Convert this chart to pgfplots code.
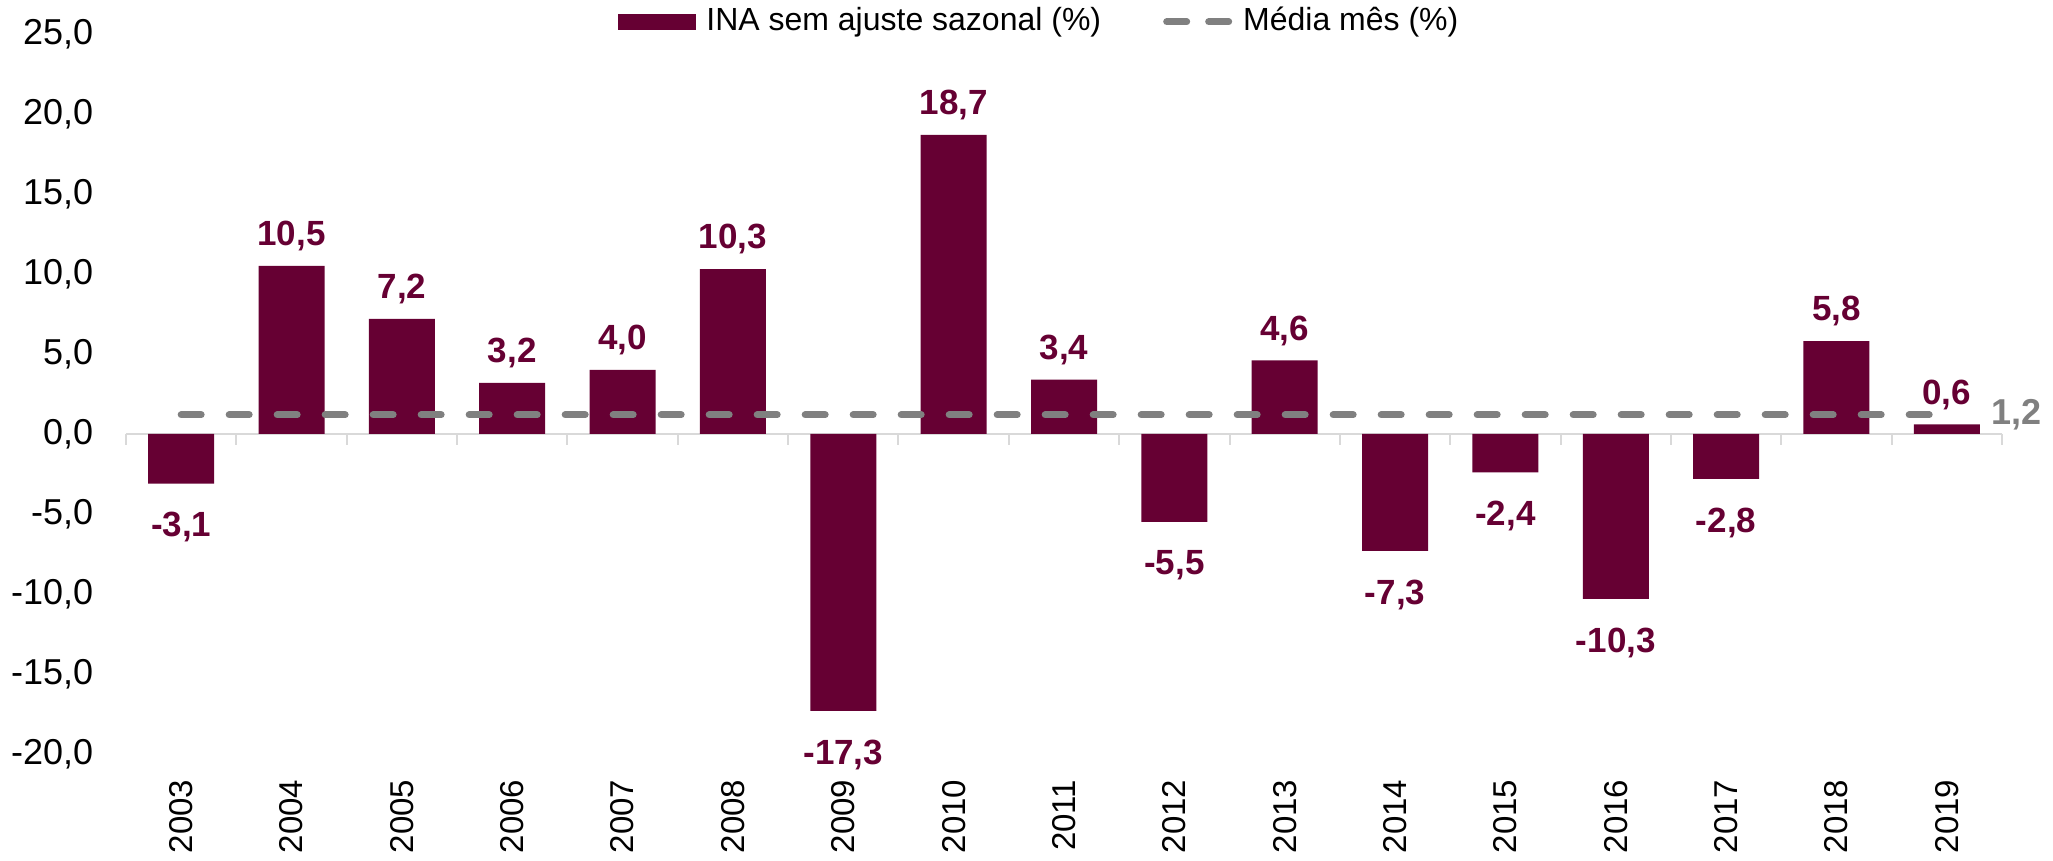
\documentclass[border=0pt]{standalone}
\usepackage{pgfplots}
\pgfplotsset{compat=1.18}
\usepackage{fontspec}
\setmainfont{Liberation Sans}
\definecolor{ina}{HTML}{660033}
\definecolor{media}{HTML}{808080}
\definecolor{eixo}{HTML}{D9D9D9}

\begin{document}
\begin{tikzpicture}
\begin{axis}[
  scale only axis, width=469pt, height=180pt,
  xmin=-0.5, xmax=16.5, ymin=-20, ymax=25,
  ytick={-20,-15,...,25},
  xtick={0,...,16},
  xticklabels={2003,2004,2005,2006,2007,2008,2009,2010,2011,2012,2013,2014,2015,2016,2017,2018,2019},
  axis line style={draw=none}, major tick length=0pt,
  xticklabel style={font=\fontsize{8.25}{9}\selectfont, rotate=90, anchor=east, inner sep=0pt},
  xticklabel shift=6.25pt,
  yticklabel style={font=\fontsize{9}{10}\selectfont, inner sep=0pt, xshift=-8pt,
    /pgf/number format/.cd, fixed, fixed zerofill, precision=1, use comma, assume math mode=true},
  legend style={at={(0.489,1.017)}, anchor=center, draw=none, fill=none,
    legend columns=2, font=\fontsize{8}{9}\selectfont,
    /tikz/every even column/.append style={column sep=13pt},
    nodes={inner sep=2.5pt}},
  clip=false,
]
% linha do zero com marcas entre categorias
\draw[eixo, line width=0.5pt] (axis cs:-0.5,0) -- (axis cs:16.5,0);
\pgfplotsinvokeforeach{-0.5,0.5,1.5,2.5,3.5,4.5,5.5,6.5,7.5,8.5,9.5,10.5,11.5,12.5,13.5,14.5,15.5,16.5}{
  \draw[eixo, line width=0.5pt] (axis cs:#1,0) -- (axis cs:#1,-0.69);
}
\addplot[ybar, bar width=16.5pt, fill=ina, draw=none,
  point meta=y,
  visualization depends on={y \as \rawy},
  nodes near coords={\pgfmathprintnumber[fixed, fixed zerofill, precision=1, use comma, assume math mode=true]{\pgfplotspointmeta}},
  nodes near coords align={vertical},
  every node near coord/.append style={font=\fontsize{8.75}{10}\selectfont\bfseries, text=ina, inner sep=3.5pt,
    yshift={(\rawy<0)*(-3.5pt)}},
  legend image code/.code={\fill[ina] (0pt,-2pt) rectangle (19.5pt,2pt);}]
  coordinates {
  (0,-3.1) (1,10.5) (2,7.2) (3,3.2) (4,4.0) (5,10.3) (6,-17.3) (7,18.7) (8,3.4)
  (9,-5.5) (10,4.6) (11,-7.3) (12,-2.4) (13,-10.3) (14,-2.8) (15,5.8) (16,0.6)
  };
\addlegendentry{INA sem ajuste sazonal (\%)}
\addplot[media, line width=1.75pt, line cap=round, dash pattern=on 5pt off 7pt,
  legend image code/.code={\draw[media, line width=1.75pt, line cap=round] (1pt,0) -- (6.25pt,0) (11.5pt,0) -- (16.75pt,0);}]
  coordinates {(0,1.2) (16,1.2)};
\addlegendentry{Média mês (\%)}
\node[anchor=west, text=media, font=\fontsize{9}{10}\selectfont\bfseries, inner sep=0pt, xshift=11pt] at (axis cs:16,1.2) {1,2};
\end{axis}
\pgfresetboundingbox
\path ([xshift=-31.5pt,yshift=-26.75pt]current axis.south west) rectangle ([xshift=12.75pt,yshift=8.5pt]current axis.north east);
\end{tikzpicture}
\end{document}
